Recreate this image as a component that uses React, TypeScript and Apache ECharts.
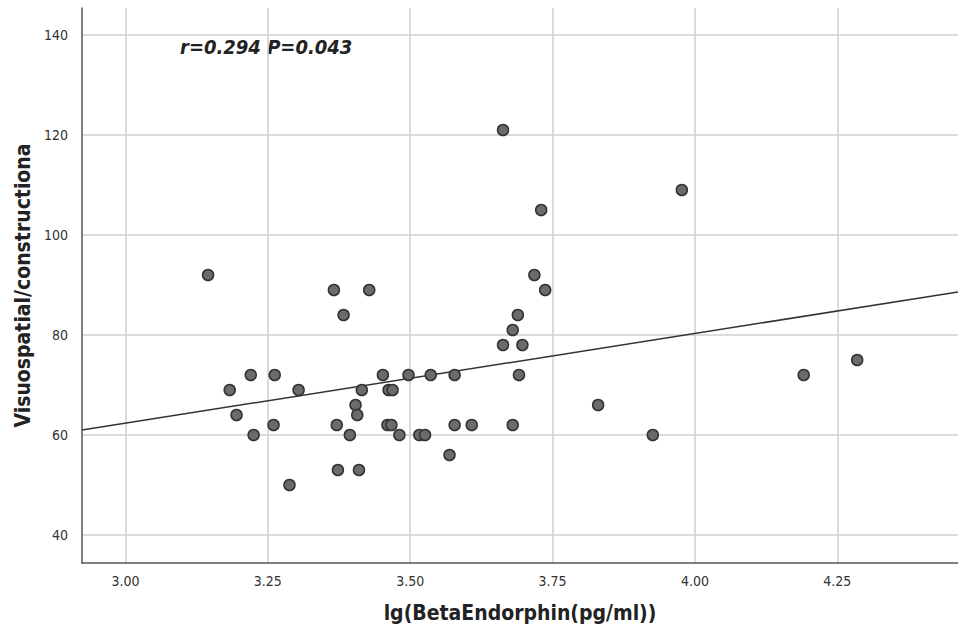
import React, { useEffect, useRef } from "react";
import * as echarts from "echarts";

const xValues = [
  3.145, 3.183, 3.195, 3.220, 3.225, 3.262, 3.260, 3.288, 3.304, 3.366,
  3.371, 3.373, 3.383, 3.394, 3.404, 3.407, 3.410, 3.415, 3.428, 3.452,
  3.462, 3.469, 3.460, 3.467, 3.481, 3.497, 3.516, 3.526, 3.536, 3.569,
  3.578, 3.578, 3.608, 3.663, 3.663, 3.680, 3.680, 3.689, 3.691, 3.697,
  3.718, 3.730, 3.737, 3.830, 3.926, 3.977, 4.191, 4.285,
];
const yValues = [
  92, 69, 64, 72, 60, 72, 62, 50, 69, 89,
  62, 53, 84, 60, 66, 64, 53, 69, 89, 72,
  69, 69, 62, 62, 60, 72, 60, 60, 72, 56,
  72, 62, 62, 121, 78, 81, 62, 84, 72, 78,
  92, 105, 89, 66, 60, 109, 72, 75,
];
// fit line end points (x, y)
const fitX = [2.9236, 4.462];
const fitY = [61.0, 88.6];

const xTicks = [3.0, 3.25, 3.5, 3.75, 4.0, 4.25];
const yTicks = [40, 60, 80, 100, 120, 140];

const annotation = "r=0.294 P=0.043";
const xTitle = "lg(BetaEndorphin(pg/ml))";
const yTitle = "Visuospatial/constructiona";

export default function App() {
  const ref = useRef<HTMLDivElement>(null);
  useEffect(() => {
    if (!ref.current) return;
    const chart = echarts.init(ref.current, null, { renderer: "svg" });
    const font = "'Liberation Sans Narrow', 'DejaVu Sans Condensed', 'Liberation Sans', sans-serif";
    chart.setOption({
      animation: false,
      backgroundColor: "#ffffff",
      grid: { left: 82, right: 0, top: 8, bottom: 65, containLabel: false, outerBoundsMode: "none" },
      xAxis: {
        type: "value",
        min: 2.9236,
        max: 4.462,
        name: xTitle,
        nameLocation: "middle",
        nameGap: 39,
        nameTextStyle: { fontFamily: font, fontWeight: "bold", fontSize: 21, color: "#222" },
        axisLine: { show: true, onZero: false, lineStyle: { color: "#555", width: 1.5 } },
        axisTick: { show: false, customValues: xTicks },
        axisLabel: {
          customValues: xTicks,
          formatter: (v: number) => v.toFixed(2),
          fontFamily: font,
          fontSize: 14,
          color: "#333",
          margin: 11,
        },
        splitLine: { show: true, lineStyle: { color: "#cfcfcf", width: 1.5 } },
      },
      yAxis: {
        type: "value",
        min: 34.4,
        max: 145.4,
        name: yTitle,
        nameLocation: "middle",
        nameGap: 45,
        nameTextStyle: { fontFamily: font, fontWeight: "bold", fontSize: 21, color: "#222" },
        axisLine: { show: true, onZero: false, lineStyle: { color: "#555", width: 1.5 } },
        axisTick: { show: false, customValues: yTicks },
        axisLabel: {
          customValues: yTicks,
          fontFamily: font,
          fontSize: 14,
          color: "#333",
          margin: 14,
        },
        splitLine: { show: true, lineStyle: { color: "#cfcfcf", width: 1.5 } },
      },
      series: [
        {
          type: "line",
          data: fitX.map((x, i) => [x, fitY[i]]),
          symbol: "none",
          lineStyle: { color: "#333", width: 1.5 },
          z: 2,
        },
        {
          type: "scatter",
          data: xValues.map((x, i) => [x, yValues[i]]),
          symbol: "circle",
          symbolSize: 11,
          itemStyle: { color: "#6b6b6b", borderColor: "#333", borderWidth: 1.5, opacity: 1 },
          z: 3,
        },
      ],
      graphic: [
        {
          type: "text",
          left: 180,
          top: 37,
          style: {
            text: annotation,
            fontFamily: font,
            fontWeight: "bold",
            fontStyle: "italic",
            fontSize: 20,
            fill: "#222",
          },
        },
      ],
    });
    return () => chart.dispose();
  }, []);
  return (
    <div
      ref={ref}
      style={{ position: "fixed", left: 0, top: 0, width: 958, height: 628, background: "#fff" }}
    />
  );
}
